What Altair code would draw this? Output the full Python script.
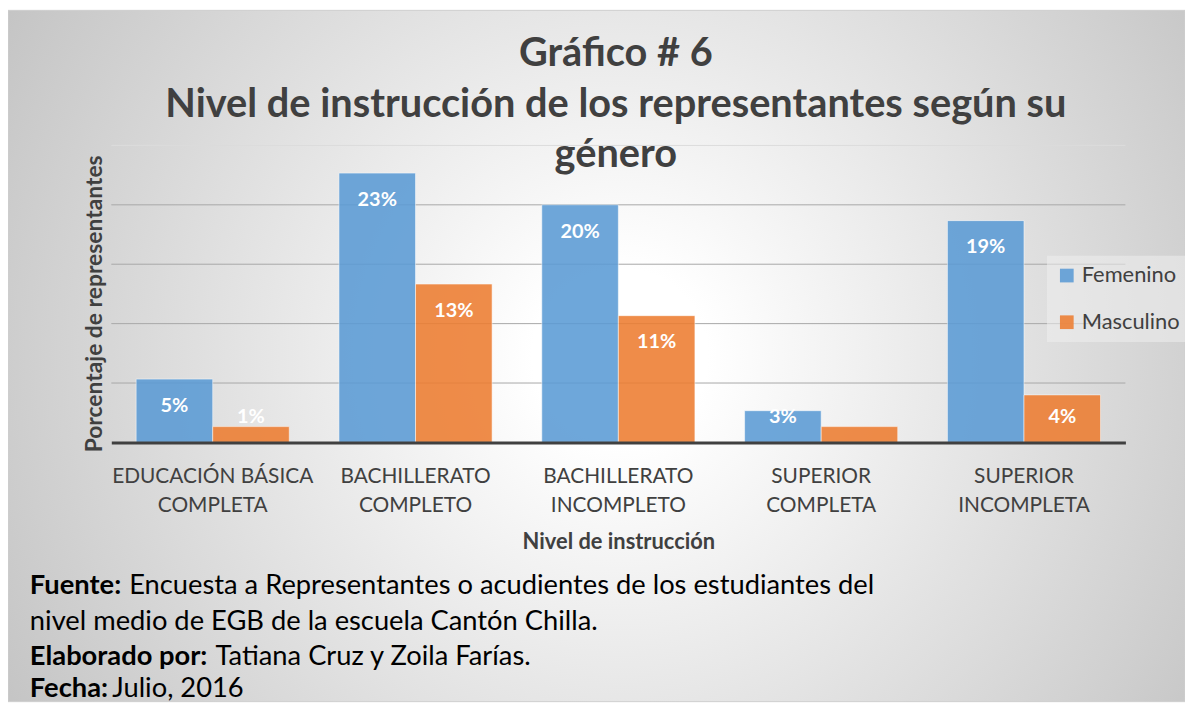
import altair as alt
import pandas as pd

# ---------------- data ----------------
niveles = [
    "EDUCACIÓN BÁSICA COMPLETA",
    "BACHILLERATO COMPLETO",
    "BACHILLERATO INCOMPLETO",
    "SUPERIOR COMPLETA",
    "SUPERIOR INCOMPLETA",
]
femenino = [5.33, 22.67, 20.0, 2.67, 18.67]
masculino = [1.33, 13.33, 10.67, 1.33, 4.0]
generos = ["Femenino", "Masculino"]
colores = ["#5B9BD5", "#ED7D31"]
grid_vals = [5, 10, 15, 20, 25]

titulo = "Gráfico # 6\nNivel de instrucción de los representantes según su\ngénero"

rows = []
for i, n in enumerate(niveles):
    rows.append({"Nivel": n, "Genero": generos[0], "Valor": femenino[i]})
    rows.append({"Nivel": n, "Genero": generos[1], "Valor": masculino[i]})
df = pd.DataFrame(rows)
grid_df = pd.DataFrame({"Valor": grid_vals})

# ---------------- layout ----------------
W, H = 1021, 299
PL, PT, PR, PB = 104, 136, 60, 261
FONT = "Lato"

yscale = alt.Scale(domain=[0, 25], nice=False)
xscale = alt.Scale(paddingInner=0.245, paddingOuter=0.1225)

yaxis = alt.Axis(
    title="Porcentaje de representantes", labels=False, ticks=False,
    domain=False, grid=False, titleFont=FONT, titleFontSize=23,
    titleFontWeight="bold", titleColor="#404040", titlePadding=5,
    titleY=159, zindex=1,
)

bg_grad = alt.RadialGradient(
    gradient="radial",
    stops=[
        alt.GradientStop(color="#ffffff", offset=0.0),
        alt.GradientStop(color="#ffffff", offset=0.12),
        alt.GradientStop(color="#c2c2c2", offset=1.0),
    ],
    x1=0.52, y1=0.5, r1=0,
    x2=0.52, y2=0.5, r2=0.62,
)

one = pd.DataFrame({"k": [0]})

bg = alt.Chart(one).mark_rect(fill=bg_grad, stroke="#cfcfcf", strokeWidth=1).encode(
    x=alt.value(-PL), x2=alt.value(W + PR),
    y=alt.value(-PT), y2=alt.value(H + PB),
)

grid = alt.Chart(grid_df).mark_rule(strokeWidth=1).encode(
    y=alt.Y("Valor:Q", scale=yscale, axis=yaxis),
    color=alt.condition("datum.Valor == 25", alt.value("#dcdcdc"), alt.value("#a8a8a8")),
)

xenc = alt.X(
    "Nivel:N", sort=niveles, scale=xscale,
    axis=alt.Axis(
        title="Nivel de instrucción", labelAngle=0, ticks=False,
        domainColor="#404040", domainWidth=3,
        labelExpr="[slice(datum.label, 0, lastindexof(datum.label, ' ')), slice(datum.label, lastindexof(datum.label, ' ') + 1)]",
        labelFont=FONT, labelFontSize=21, labelColor="#404040",
        labelPadding=23, labelLineHeight=30, labelLimit=400,
        titleFont=FONT, titleFontSize=22, titleFontWeight="bold",
        titleColor="#404040", titlePadding=16, zindex=1,
    ),
)
xoff = alt.XOffset("Genero:N", sort=generos, scale=alt.Scale(paddingInner=0, paddingOuter=0))

bars = alt.Chart(df).mark_bar(opacity=0.88, stroke="white", strokeOpacity=0.55, strokeWidth=1).encode(
    x=xenc,
    xOffset=xoff,
    y=alt.Y("Valor:Q", scale=yscale, axis=yaxis),
    color=alt.Color(
        "Genero:N", sort=generos,
        scale=alt.Scale(domain=generos, range=colores),
        legend=alt.Legend(
            title=None, orient="none", legendX=942, legendY=111,
            fillColor="rgba(238,238,238,0.55)", padding=9, rowPadding=25,
            symbolType="square", symbolSize=190, symbolOpacity=0.88,
            symbolStrokeWidth=0, labelFont=FONT, labelFontSize=22,
            labelColor="#404040", labelOffset=4,
        ),
    ),
)

labels = alt.Chart(df).transform_filter(
    "!(datum.Nivel == 'SUPERIOR COMPLETA' && datum.Genero == 'Masculino')"
).transform_calculate(
    ly="max(datum.Valor - 2.26, 2.1)",
    lbl="format(datum.Valor, '.0f') + '%'",
).mark_text(color="white", font=FONT, fontWeight="bold", fontSize=20, baseline="middle").encode(
    x=alt.X("Nivel:N", sort=niveles, scale=xscale),
    xOffset=xoff,
    y=alt.Y("ly:Q", scale=yscale),
    text="lbl:N",
)

title = alt.Chart(one).mark_text(
    lineBreak="\n", lineHeight=51, fontSize=40, fontWeight="bold", font=FONT,
    color="#404040", align="center", baseline="alphabetic",
).encode(x=alt.value(508), y=alt.value(-80), text=alt.value(titulo))


def note(txt, x, y, bold):
    return alt.Chart(one).mark_text(
        font=FONT, fontSize=27.5, fontWeight="bold" if bold else "normal",
        color="#000000", align="left", baseline="alphabetic",
    ).encode(x=alt.value(x), y=alt.value(y), text=alt.value(txt))


Y1, Y2, Y3, Y4 = 596 - 144, 632 - 144, 667 - 144, 699 - 144
notes = [
    note("Fuente:", -82, Y1, True),
    note("Encuesta a Representantes o acudientes de los estudiantes del", 18, Y1, False),
    note("nivel medio de EGB de la escuela Cantón Chilla.", -82, Y2, False),
    note("Elaborado por:", -82, Y3, True),
    note("Tatiana Cruz y Zoila Farías.", 105, Y3, False),
    note("Fecha:", -82, Y4, True),
    note("Julio, 2016", 1, Y4, False),
]

chart = alt.layer(bg, grid, bars, labels, title, *notes).properties(
    width=W, height=H,
    padding={"left": PL, "top": PT, "right": PR, "bottom": PB},
    autosize=alt.AutoSizeParams(type="none"),
).configure_view(stroke=None)

chart.save("out.html", embed_options={"renderer": "svg", "actions": False})
